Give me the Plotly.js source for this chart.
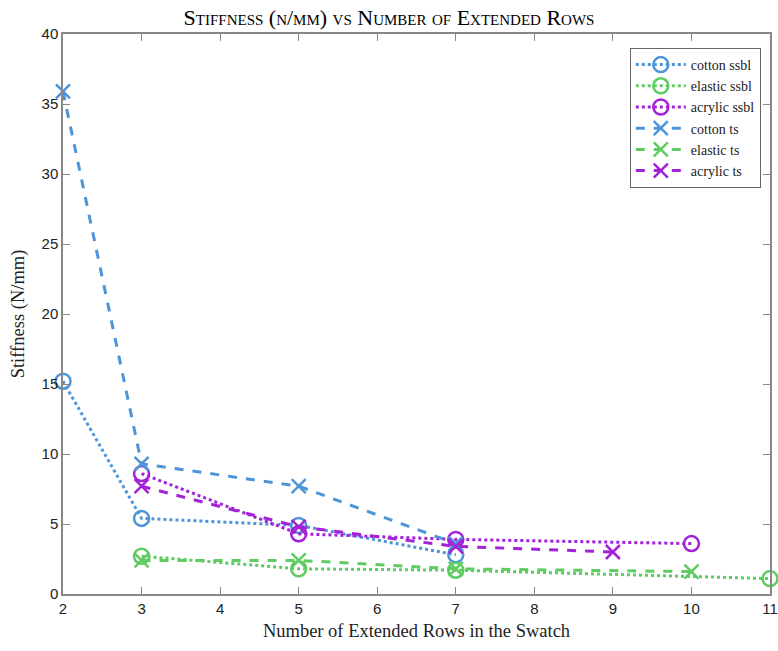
<!DOCTYPE html>
<html><head><meta charset="utf-8">
<script src="https://cdn.plot.ly/plotly-3.0.1.min.js"></script>
<style>body{margin:0;background:#fff}#chart{width:778px;height:651px}</style>
</head><body><div id="chart"></div>
<script>
const cottonSsblX = [2, 3, 5, 7];
const cottonSsblY = [15.2, 5.4, 4.9, 2.8];
const elasticSsblX = [3, 5, 7, 11];
const elasticSsblY = [2.7, 1.8, 1.7, 1.1];
const acrylicSsblX = [3, 5, 7, 10];
const acrylicSsblY = [8.6, 4.3, 3.9, 3.6];
const cottonTsX = [2, 3, 5, 7];
const cottonTsY = [35.9, 9.3, 7.7, 3.6];
const elasticTsX = [3, 5, 7, 10];
const elasticTsY = [2.4, 2.4, 1.8, 1.6];
const acrylicTsX = [3, 5, 7, 9];
const acrylicTsY = [7.7, 4.8, 3.4, 3.0];
const seriesNames = ['cotton ssbl','elastic ssbl','acrylic ssbl','cotton ts','elastic ts','acrylic ts'];

const blue = '#4d95d8', green = '#5fcc62', purple = '#a321d9';
function tr(x, y, name, color, dash, sym) {
  return {x, y, name, type: 'scatter', mode: 'lines+markers', cliponaxis: false,
    line: {color, width: 3, dash},
    marker: {symbol: sym, size: sym === 'circle-open' ? 15 : 14, color, line: {color, width: 2.5}}};
}
const data = [
  tr(cottonSsblX, cottonSsblY, seriesNames[0], blue, 'dot', 'circle-open'),
  tr(elasticSsblX, elasticSsblY, seriesNames[1], green, 'dot', 'circle-open'),
  tr(acrylicSsblX, acrylicSsblY, seriesNames[2], purple, 'dot', 'circle-open'),
  tr(cottonTsX, cottonTsY, seriesNames[3], blue, 'dash', 'x-thin-open'),
  tr(elasticTsX, elasticTsY, seriesNames[4], green, 'dash', 'x-thin-open'),
  tr(acrylicTsX, acrylicTsY, seriesNames[5], purple, 'dash', 'x-thin-open')
];
const serif = 'Liberation Serif, Times New Roman, serif';
const sans = 'Liberation Sans, Arial, sans-serif';
const axisCommon = {showgrid: false, zeroline: false, showline: true, linecolor: '#888', linewidth: 1.5,
  mirror: 'ticks', ticks: 'inside', ticklen: 7, tickcolor: '#888', tickwidth: 1,
  tickfont: {family: sans, size: 15, color: '#222'}};
const layout = {
  width: 778, height: 651,
  margin: {l: 63, r: 8, t: 34, b: 57},
  paper_bgcolor: '#fff', plot_bgcolor: '#fff',
  title: {text: 'Stiffness (n/mm) vs Number of Extended Rows', x: 0.5, xanchor: 'center', y: 0.985, yanchor: 'top',
    font: {family: serif, size: 22, color: '#000', variant: 'small-caps', weight: 'normal'}},
  xaxis: Object.assign({}, axisCommon, {range: [2, 11], tickvals: [2,3,4,5,6,7,8,9,10,11],
    title: {text: 'Number of Extended Rows in the Swatch', font: {family: serif, size: 18.5, color: '#222'}, standoff: 8}}),
  yaxis: Object.assign({}, axisCommon, {range: [0, 40], tickvals: [0,5,10,15,20,25,30,35,40],
    title: {text: 'Stiffness (N/mm)', font: {family: serif, size: 18.5, color: '#222'}, standoff: 12}}),
  legend: {x: 0.987, xanchor: 'right', y: 0.975, yanchor: 'top', bgcolor: '#fff', bordercolor: '#666', borderwidth: 1,
    font: {family: serif, size: 14, color: '#222'}, tracegroupgap: 0, itemwidth: 50},
  showlegend: true
};
Plotly.newPlot('chart', data, layout, {displayModeBar: false});
</script></body></html>
